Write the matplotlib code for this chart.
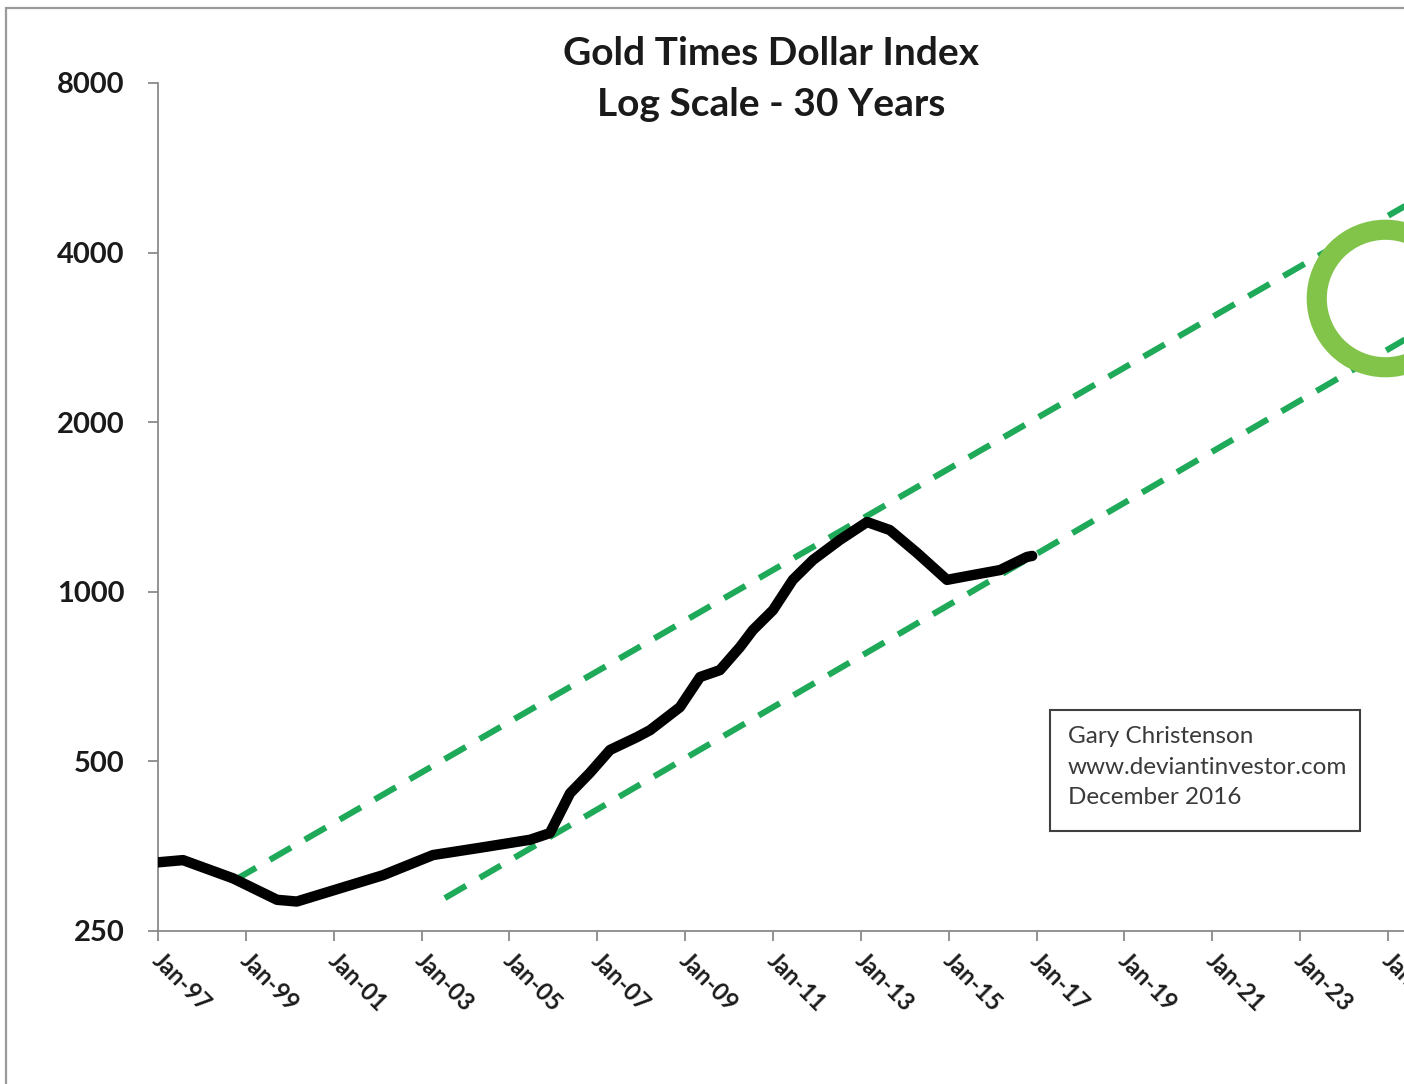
import matplotlib
matplotlib.use("Agg")
import matplotlib.pyplot as plt
import matplotlib.transforms as mtransforms
from matplotlib.patches import Rectangle
from matplotlib.ticker import FixedLocator, NullLocator

# ---- data ----
years = [1997.0, 1997.57, 1998.71, 1999.71, 2000.16, 2000.98, 2002.12, 2003.26,
         2004.40, 2005.47, 2005.92, 2006.38, 2006.83, 2007.29, 2007.90, 2008.20,
         2008.88, 2009.34, 2009.79, 2010.25, 2010.54, 2011.00, 2011.45, 2011.91,
         2012.52, 2013.14, 2013.66, 2014.28, 2014.96, 2015.55, 2016.17, 2016.78,
         2016.90]
values = [331, 334, 310, 284, 282, 295, 314, 341,
          352, 363, 373, 439, 477, 524, 552, 568,
          624, 706, 726, 798, 855, 928, 1050, 1139,
          1236, 1330, 1287, 1172, 1050, 1071, 1093, 1153,
          1158]

upper_x = [1998.75, 2026.5]
upper_y = [308, 5430]
lower_x = [2003.53, 2026.5]
lower_y = [286, 3150]

target_x = [2024.94]
target_y = [3322]

y_ticks = [250, 500, 1000, 2000, 4000, 8000]
y_tick_labels = ["250", "500", "1000", "2000", "4000", "8000"]
x_tick_years = list(range(1997, 2027, 2))
x_tick_labels = ["Jan-%02d" % (y % 100) for y in x_tick_years]

title_lines = "Gold Times Dollar Index\nLog Scale - 30 Years"
note_text = "Gary Christenson\nwww.deviantinvestor.com\nDecember 2016"

# ---- figure ----
W, H = 1404, 1084
fig = plt.figure(figsize=(W / 100, H / 100), dpi=100)
plt.rcParams['font.family'] = ['Lato', 'DejaVu Sans']

x0_px, xend_px = 158, 158 + 29 * 43.93  # Jan-97 .. 2026
ax = fig.add_axes([x0_px / W, (H - 931) / H, (xend_px - x0_px) / W, (931 - 83) / H])
ax.set_yscale('log')
ax.set_ylim(250, 8000)
ax.set_xlim(1997.0, 2026.0)

# frame around chart area
fig.patches.append(Rectangle((6 / W, -0.2), 1.5, 1.2 - 8 / H,
                             transform=fig.transFigure, fill=False,
                             edgecolor='#9a9a9a', linewidth=1.6))

green = '#1faa59'
ax.plot(upper_x, upper_y, color=green, lw=4.4, dashes=(4.0, 2.6),
        dash_capstyle='butt', clip_on=False, zorder=2)
ax.plot(lower_x, lower_y, color=green, lw=4.4, dashes=(4.0, 2.6),
        dash_capstyle='butt', clip_on=False, zorder=2)
ax.plot(years, values, color='black', lw=7.5, solid_capstyle='round',
        solid_joinstyle='round', zorder=3)
ax.plot(target_x, target_y, marker='o', ms=99, mfc='none', mec='#82c44a',
        mew=14.5, linestyle='none', clip_on=False, zorder=4)

# axes styling
for s in ['top', 'right']:
    ax.spines[s].set_visible(False)
for s in ['left', 'bottom']:
    ax.spines[s].set_color('#8a8a8a')
    ax.spines[s].set_linewidth(1.3)

ax.yaxis.set_major_locator(FixedLocator(y_ticks))
ax.yaxis.set_minor_locator(NullLocator())
ax.set_yticklabels(y_tick_labels)
ax.tick_params(axis='y', which='major', direction='out', length=7, width=1.3,
               color='#8a8a8a', pad=17, labelsize=21, labelcolor='#1a1a1a')
for lab in ax.get_yticklabels():
    lab.set_fontweight('bold')

ax.set_xticks(x_tick_years)
ax.set_xticklabels(x_tick_labels, rotation=-45, ha='left', va='top',
                   rotation_mode='anchor')
ax.tick_params(axis='x', which='major', direction='out', length=7, width=1.3,
               color='#8a8a8a', pad=6, labelsize=17, labelcolor='#1a1a1a')
ax.xaxis.set_minor_locator(NullLocator())
shift = mtransforms.ScaledTranslation(6 / 100, 0, fig.dpi_scale_trans)
for lab in ax.get_xticklabels():
    lab.set_fontweight('bold')
    lab.set_transform(lab.get_transform() + shift)

# title
fig.text(771 / W, 1 - 79 / H, title_lines, ha='center', va='center',
         fontsize=28, fontweight='bold', color='#1a1a1a', linespacing=1.55)

# note box
fig.patches.append(Rectangle((1050 / W, 1 - 831 / H), 310 / W, 121 / H,
                             transform=fig.transFigure, fill=False,
                             edgecolor='#404040', linewidth=1.5))
fig.text(1068 / W, 1 - 767 / H, note_text, ha='left', va='center',
         fontsize=17.5, color='#3a3a3a', linespacing=1.55)

fig.savefig('out.png', dpi=100)
